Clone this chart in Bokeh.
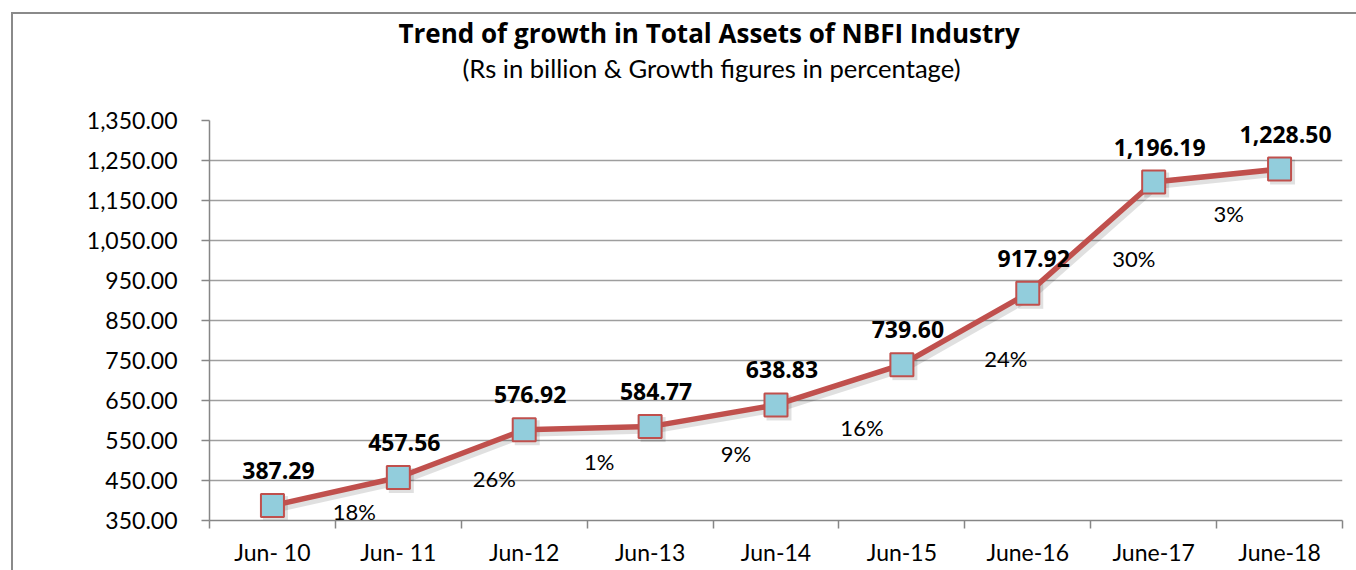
from bokeh.plotting import figure
from bokeh.models import Range1d, FixedTicker, NumeralTickFormatter, Label, ColumnDataSource, LabelSet, Title
from bokeh.core.properties import value
from bokeh.embed import file_html
from bokeh.resources import INLINE

# ---- data ----
periods = ["Jun- 10", "Jun- 11", "Jun-12", "Jun-13", "Jun-14", "Jun-15", "June-16", "June-17", "June-18"]
total_assets = [387.29, 457.56, 576.92, 584.77, 638.83, 739.60, 917.92, 1196.19, 1228.50]
growth_pct = [18, 26, 1, 9, 16, 24, 30, 3]
y_ticks = [350, 450, 550, 650, 750, 850, 950, 1050, 1150, 1250, 1350]
title_text = "Trend of growth in Total Assets of NBFI Industry"
subtitle_text = "(Rs in billion & Growth figures in percentage)"

# ---- layout / styling (pixel offsets for growth labels relative to segment midpoints) ----
growth_dx = [19, 33, 12, 23, 23, 41, 43, 12]
growth_dy = [-20, -25, -33, -38, -43, -30, -21, -38]

FONT = "Lato"
BOLD = "Open Sans"
x = [i + 0.5 for i in range(len(periods))]
value_text = [f"{v:,.2f}" for v in total_assets]

p = figure(width=1356, height=570, output_backend="svg", toolbar_location=None,
           x_range=Range1d(0, len(periods)), y_range=Range1d(350, 1350),
           frame_width=1133, frame_height=400, title_location=None,
           min_border_left=209, min_border_top=120, min_border_right=14, min_border_bottom=50)
p.styles = {"background": "linear-gradient(#8a8a8a,#8a8a8a) 11px 12px / 2px calc(100% - 12px) no-repeat, "
                          "linear-gradient(#8a8a8a,#8a8a8a) 11px 12px / calc(100% - 11px) 2px no-repeat, #ffffff"}
p.outline_line_color = None
p.background_fill_color = "white"
p.border_fill_alpha = 0

# axes
p.xaxis.ticker = FixedTicker(ticks=x, minor_ticks=list(range(len(periods) + 1)))
p.xaxis.major_label_overrides = {xx: lab for xx, lab in zip(x, periods)}
p.xaxis.major_tick_line_color = None
p.xaxis.minor_tick_out = 8
p.xaxis.minor_tick_in = 0
p.xaxis.minor_tick_line_color = "#868686"
p.xaxis.minor_tick_line_width = 1.5
p.xaxis.axis_line_color = "#868686"
p.xaxis.axis_line_width = 1.5
p.xaxis.major_label_standoff = 9
p.xaxis.major_label_text_font = FONT
p.xaxis.major_label_text_font_size = "23px"
p.xaxis.major_label_text_color = "black"

p.yaxis.ticker = FixedTicker(ticks=y_ticks)
p.yaxis.formatter = NumeralTickFormatter(format="0,0.00")
p.yaxis.major_tick_out = 8
p.yaxis.major_tick_in = 0
p.yaxis.minor_tick_line_color = None
p.yaxis.major_tick_line_color = "#868686"
p.yaxis.major_tick_line_width = 1.5
p.yaxis.axis_line_color = "#868686"
p.yaxis.axis_line_width = 1.5
p.yaxis.major_label_standoff = 24
p.yaxis.major_label_text_font = FONT
p.yaxis.major_label_text_font_size = "23px"
p.yaxis.major_label_text_color = "black"

p.xgrid.grid_line_color = None
p.ygrid.ticker = FixedTicker(ticks=y_ticks)
p.ygrid.grid_line_color = "#9e9e9e"
p.ygrid.grid_line_width = 1.5

src = ColumnDataSource(dict(x=x, y=total_assets, t=value_text))

# soft drop shadow (a few px down-right) under the line and markers
sh_dx, sh_dy = 3 / 125.9, -3 / 0.4
shadow = ColumnDataSource(dict(x=[v + sh_dx for v in x], y=[v + sh_dy for v in total_assets]))
p.line("x", "y", source=shadow, line_color="#000000", line_alpha=0.12, line_width=8)
p.scatter("x", "y", source=shadow, marker="square", size=25, fill_color="#000000",
          fill_alpha=0.12, line_color=None)

p.line("x", "y", source=src, line_color="#c0504d", line_width=5.5)
p.scatter("x", "y", source=src, marker="square", size=23, fill_color="#92cddc",
          line_color="#c0504d", line_width=2)

p.add_layout(LabelSet(x="x", y="y", text="t", source=src, x_offset=6, y_offset=35,
                      text_align="center", text_baseline="middle", text_font=value(BOLD),
                      text_font_style="bold", text_font_size="23px", text_color="black"))

# growth labels at segment midpoints
gx = [(x[i] + x[i + 1]) / 2 for i in range(len(growth_pct))]
gy = [(total_assets[i] + total_assets[i + 1]) / 2 for i in range(len(growth_pct))]
for xx, yy, g, dx, dy in zip(gx, gy, growth_pct, growth_dx, growth_dy):
    p.add_layout(Label(x=xx, y=yy, text=f"{g}%", x_offset=dx, y_offset=dy,
                       text_align="center", text_baseline="middle", text_font=FONT,
                       text_font_size="22px", text_color="black"))

# titles stacked above the frame (first added = closest to frame)
p.add_layout(Title(text=" ", text_font_size="10px", standoff=24), "above")
p.add_layout(Title(text=subtitle_text, align="left", offset=253, text_font=FONT,
                   text_font_size="25.6px", text_font_style="normal", text_color="black",
                   standoff=0, vertical_align="middle"), "above")
p.add_layout(Title(text=title_text, align="left", offset=189, text_font=BOLD,
                   text_font_size="26px", text_font_style="bold", text_color="black",
                   standoff=0, vertical_align="middle"), "above")

open("out.html", "w").write(file_html(p, INLINE))
